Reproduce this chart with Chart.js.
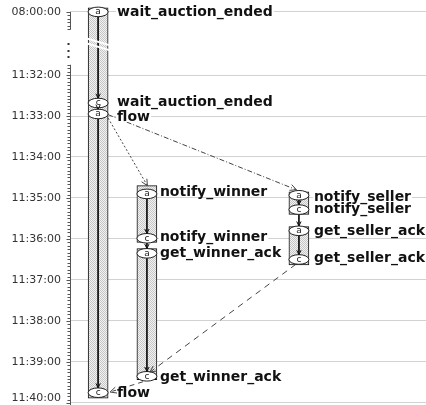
<!DOCTYPE html>
<html>
<head>
<meta charset="utf-8">
<script src="https://cdn.jsdelivr.net/npm/chart.js@4.4.1/dist/chart.umd.min.js"></script>
<style>
  html, body { margin: 0; padding: 0; background: #fff; overflow: hidden; }
  #wrap { width: 426px; height: 405px; }
</style>
</head>
<body>
<div id="wrap"><canvas id="chart"></canvas></div>
<script>
// ---------------------------------------------------------
// Data (times)
// ---------------------------------------------------------
const tickLabels = ['08:00:00', '11:32:00', '11:33:00', '11:34:00', '11:35:00',
  '11:36:00', '11:37:00', '11:38:00', '11:39:00', '11:40:00'];

// three swim lanes, x in axis units
const lanePos = [0.79, 2.16, 6.43];

// activity boxes
const boxLane  = [0, 1, 1, 2, 2];
const boxStart = ['07:59:54', '11:34:42', '11:36:14', '11:34:51', '11:35:42'];
const boxEnd   = ['11:39:53', '11:36:05', '11:39:26', '11:35:24', '11:36:38'];

// a = activated, c = completed
const evLane  = [0, 0, 0, 0, 1, 1, 1, 1, 2, 2, 2, 2];
const evKind  = ['a', 'c', 'a', 'c', 'a', 'c', 'a', 'c', 'a', 'c', 'a', 'c'];
const evTime  = ['08:00:00', '11:32:41', '11:32:57', '11:39:45',
                 '11:34:54', '11:35:59', '11:36:21', '11:39:21',
                 '11:34:56', '11:35:17', '11:35:48', '11:36:30'];
const evLabel = ['wait_auction_ended', 'wait_auction_ended', 'flow', 'flow',
                 'notify_winner', 'notify_winner', 'get_winner_ack', 'get_winner_ack',
                 'notify_seller', 'notify_seller', 'get_seller_ack', 'get_seller_ack'];
const labelTime = ['08:00:00', '11:32:40', '11:33:01', '11:39:45',
                   '11:34:51', '11:35:57', '11:36:20', '11:39:22',
                   '11:34:59', '11:35:16', '11:35:48', '11:36:28'];

// messages between lanes (side: -1 left edge, 0 centre, +1 right edge)
const msgFromLane = [0, 0, 2, 1];
const msgFromSide = [1, 1, -0.3, -0.4];
const msgFromTime = ['11:33:03', '11:32:58', '11:36:37', '11:39:29'];
const msgToLane   = [1, 2, 1, 0];
const msgToSide   = [0.05, -0.25, 0.3, 1.2];
const msgToTime   = ['11:34:42', '11:34:48', '11:39:15', '11:39:44'];
const msgDash     = [[2, 2], [5, 2, 1, 2], [6, 5], [5, 4]];

// ---------------------------------------------------------
// Broken time axis: minutes after 11:32, 08:00 sits above the break
// ---------------------------------------------------------
const EARLY_POS = -1.54;
const LANE_HALF = 0.28;

function toVal(t) {
  const p = t.split(':').map(Number);
  const mins = p[0] * 60 + p[1] + p[2] / 60;
  const ref = 11 * 60 + 32;
  if (mins >= ref - 1) return mins - ref;
  return EARLY_POS + (mins - 8 * 60);
}

const tickVals = tickLabels.map(toVal);

// fine stipple used for the boxes
const pat = (() => {
  const c = document.createElement('canvas');
  c.width = 2; c.height = 2;
  const g = c.getContext('2d');
  g.fillStyle = '#f2f2f2'; g.fillRect(0, 0, 2, 2);
  g.fillStyle = '#c6c6c6'; g.fillRect(0, 0, 1, 1); g.fillRect(1, 1, 1, 1);
  return g.createPattern(c, 'repeat');
})();

// ---------------------------------------------------------
// Datasets
// ---------------------------------------------------------
const datasets = [{
  type: 'bar',
  order: 10,
  data: boxLane.map((l, i) => ({ x: lanePos[l], y: [toVal(boxStart[i]), toVal(boxEnd[i])] })),
  backgroundColor: pat,
  borderColor: '#111',
  borderWidth: 1,
  borderSkipped: false,
  barThickness: 20
}];

// solid arrows between consecutive events of a lane
const solidIdx = [];
for (let i = 0; i < evLane.length - 1; i++) {
  if (evLane[i] !== evLane[i + 1]) continue;
  solidIdx.push(datasets.length);
  datasets.push({
    type: 'scatter', order: 2, showLine: true, pointRadius: 0,
    borderColor: '#111', borderWidth: 1,
    data: [{ x: lanePos[evLane[i]], y: toVal(evTime[i]) },
           { x: lanePos[evLane[i + 1]], y: toVal(evTime[i + 1]) }]
  });
}

// dashed message arrows
const dashIdx = [];
msgFromLane.forEach((l, i) => {
  dashIdx.push(datasets.length);
  datasets.push({
    type: 'scatter', order: 1, showLine: true, pointRadius: 0,
    borderColor: '#444', borderWidth: 1, borderDash: msgDash[i],
    data: [{ x: lanePos[l] + msgFromSide[i] * LANE_HALF, y: toVal(msgFromTime[i]) },
           { x: lanePos[msgToLane[i]] + msgToSide[i] * LANE_HALF, y: toVal(msgToTime[i]) }]
  });
});

function arrowHead(ctx, x0, y0, x1, y1, len, back) {
  const ang = Math.atan2(y1 - y0, x1 - x0);
  const tx = x1 - Math.cos(ang) * back, ty = y1 - Math.sin(ang) * back;
  ctx.beginPath();
  ctx.moveTo(tx - len * Math.cos(ang - 0.45), ty - len * Math.sin(ang - 0.45));
  ctx.lineTo(tx, ty);
  ctx.lineTo(tx - len * Math.cos(ang + 0.45), ty - len * Math.sin(ang + 0.45));
  ctx.stroke();
}

// ---------------------------------------------------------
// Plugin: ellipses, labels, arrow heads, axis with break
// ---------------------------------------------------------
const diagram = {
  id: 'diagram',
  afterDatasetsDraw(chart) {
    const ctx = chart.ctx, xs = chart.scales.x, ys = chart.scales.y;
    ctx.save();

    // event ellipses
    evLane.forEach((l, i) => {
      const x = xs.getPixelForValue(lanePos[l]), y = ys.getPixelForValue(toVal(evTime[i]));
      ctx.beginPath();
      ctx.ellipse(x, y, 10, 4.8, 0, 0, Math.PI * 2);
      ctx.fillStyle = '#fff'; ctx.fill();
      ctx.strokeStyle = '#222'; ctx.lineWidth = 1; ctx.stroke();
      ctx.fillStyle = '#222';
      ctx.font = '9px "DejaVu Sans"';
      ctx.textAlign = 'center'; ctx.textBaseline = 'middle';
      ctx.fillText(evKind[i], x, y);
    });

    // labels, white behind so grid lines do not run through
    const gap = [9, 3, 5];
    ctx.font = 'bold 14px "DejaVu Sans"';
    ctx.textAlign = 'left'; ctx.textBaseline = 'middle';
    const items = evLabel.map((t, i) => ({
      t, x: xs.getPixelForValue(lanePos[evLane[i]]) + 10 + gap[evLane[i]],
      y: ys.getPixelForValue(toVal(labelTime[i]))
    }));
    ctx.fillStyle = '#fff';
    items.forEach(o => ctx.fillRect(o.x - 1, o.y - 5, ctx.measureText(o.t).width + 2, 10));
    ctx.fillStyle = '#111';
    items.forEach(o => ctx.fillText(o.t, o.x, o.y + 0.5));

    // arrow heads
    ctx.setLineDash([]);
    ctx.strokeStyle = '#111';
    solidIdx.forEach(d => {
      const p = chart.getDatasetMeta(d).data;
      arrowHead(ctx, p[0].x, p[0].y, p[1].x, p[1].y, 5, 4.8);
    });
    ctx.strokeStyle = '#444';
    dashIdx.forEach(d => {
      const p = chart.getDatasetMeta(d).data;
      arrowHead(ctx, p[0].x, p[0].y, p[1].x, p[1].y, 7, 0);
    });
    ctx.restore();
  },
  afterDraw(chart) {
    const ctx = chart.ctx, xs = chart.scales.x, ys = chart.scales.y;
    const ax = chart.chartArea.left + 0.5;
    ctx.save();

    // break slashes across the first lane
    const lx = xs.getPixelForValue(lanePos[0]);
    const by = ys.getPixelForValue(-0.75);
    ctx.strokeStyle = '#fff'; ctx.lineWidth = 2;
    [-2.5, 2.5].forEach(o => {
      ctx.beginPath();
      ctx.moveTo(lx - 12, by + o - 3.6);
      ctx.lineTo(lx + 12, by + o + 3.6);
      ctx.stroke();
    });

    // axis line in two pieces with minor ticks every 5 s
    ctx.strokeStyle = '#555'; ctx.lineWidth = 1;
    const segs = [[toVal('08:00:00'), toVal('08:00:26')], [toVal('11:31:45'), ys.max]];
    segs.forEach(([a, b]) => {
      const ya = ys.getPixelForValue(a), yb = ys.getPixelForValue(b);
      ctx.beginPath(); ctx.moveTo(ax, ya); ctx.lineTo(ax, yb); ctx.stroke();
      for (let v = a; v <= b + 1e-6; v += 5 / 60) {
        const y = Math.round(ys.getPixelForValue(v)) + 0.5;
        ctx.beginPath(); ctx.moveTo(ax - 3, y); ctx.lineTo(ax, y); ctx.stroke();
      }
    });
    tickVals.forEach(v => {
      const y = Math.round(ys.getPixelForValue(v)) + 0.5;
      ctx.beginPath(); ctx.moveTo(ax - 4, y); ctx.lineTo(ax, y); ctx.stroke();
    });

    // dots marking the break
    ctx.fillStyle = '#333';
    [-7, 0, 6].forEach(o => ctx.fillRect(ax - 3, Math.round(ys.getPixelForValue(-0.6)) + o, 2, 2));

    // last tick label kept inside the picture
    const last = tickLabels.length - 1;
    const ly = Math.min(ys.getPixelForValue(tickVals[last]), chart.height - 7);
    ctx.font = '11px "DejaVu Sans"';
    ctx.fillStyle = '#333'; ctx.textAlign = 'right'; ctx.textBaseline = 'middle';
    ctx.fillText(tickLabels[last], chart.chartArea.left - 9, ly);
    ctx.restore();
  }
};

new Chart(document.getElementById('chart'), {
  data: { datasets },
  options: {
    responsive: true,
    maintainAspectRatio: false,
    animation: false,
    devicePixelRatio: 1,
    layout: { padding: 0 },
    plugins: { legend: { display: false }, tooltip: { enabled: false } },
    scales: {
      x: { type: 'linear', min: 0, max: 10, display: false, offset: false },
      y: {
        type: 'linear', reverse: true, min: -1.83, max: 8.05,
        afterBuildTicks: s => { s.ticks = tickVals.map(v => ({ value: v })); },
        afterFit: s => { s.width = 70; s.paddingTop = 0; s.paddingBottom = 0; },
        border: { display: false },
        grid: { color: '#d2d2d2', drawTicks: false },
        ticks: {
          padding: 9, color: '#333',
          font: { family: 'DejaVu Sans', size: 11 },
          callback: (v, i) => (i === tickLabels.length - 1 ? '' : tickLabels[i])
        }
      }
    }
  },
  plugins: [diagram]
});
</script>
</body>
</html>
